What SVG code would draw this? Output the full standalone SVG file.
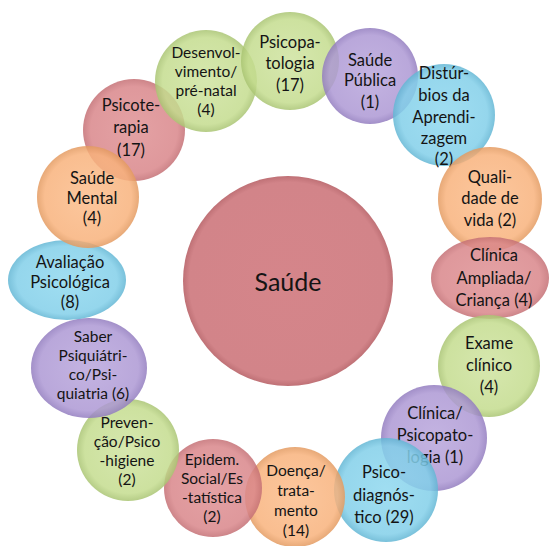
<svg xmlns="http://www.w3.org/2000/svg" width="550" height="546" viewBox="0 0 550 546">
<defs>
<radialGradient id="gG" cx="50%" cy="50%" r="50%"><stop offset="0" stop-color="#cfe3a0"/><stop offset="0.85" stop-color="#c4dc8e"/><stop offset="1" stop-color="#a9c472"/></radialGradient>
<radialGradient id="gR" cx="50%" cy="50%" r="50%"><stop offset="0" stop-color="#df9194"/><stop offset="0.85" stop-color="#d9868a"/><stop offset="1" stop-color="#c46f74"/></radialGradient>
<radialGradient id="gP" cx="50%" cy="50%" r="50%"><stop offset="0" stop-color="#b9a6dc"/><stop offset="0.85" stop-color="#ad98d4"/><stop offset="1" stop-color="#927cbf"/></radialGradient>
<radialGradient id="gB" cx="50%" cy="50%" r="50%"><stop offset="0" stop-color="#8fd8ef"/><stop offset="0.85" stop-color="#82cfe9"/><stop offset="1" stop-color="#62b6d4"/></radialGradient>
<radialGradient id="gO" cx="50%" cy="50%" r="50%"><stop offset="0" stop-color="#fbbd8c"/><stop offset="0.85" stop-color="#f8b27c"/><stop offset="1" stop-color="#e39a60"/></radialGradient>
<radialGradient id="gC" cx="50%" cy="50%" r="50%"><stop offset="0" stop-color="#d5858a"/><stop offset="0.94" stop-color="#d28489"/><stop offset="1" stop-color="#bf7176"/></radialGradient>
</defs>
<style>
.n{opacity:0.85}
.G{fill:url(#gG)}.R{fill:url(#gR)}.P{fill:url(#gP)}.B{fill:url(#gB)}.O{fill:url(#gO)}
text{font-family:Lato,"Liberation Sans",sans-serif;font-size:16.5px;fill:#141414;text-anchor:middle}
.s text{font-size:15.5px}
.big{font-size:25px}
</style>
<g id="connectors"/>
<g id="saude"><circle cx="288" cy="281" r="105" fill="url(#gC)"/><text class="big" x="288" y="291">Saúde</text></g>
<g id="psicoterapia"><circle class="n R" cx="134" cy="130" r="51"/><text x="131" y="111">Psicote-</text><text x="131" y="133">rapia</text><text x="131" y="156">(17)</text></g>
<g id="desenvolvimento" class="s"><circle class="n G" cx="206" cy="81" r="51"/><text x="206" y="58">Desenvol-</text><text x="206" y="77">vimento/</text><text x="206" y="96">pré-natal</text><text x="206" y="115">(4)</text></g>
<g id="psicopatologia"><circle class="n G" cx="290" cy="61" r="49"/><text x="290" y="48">Psicopa-</text><text x="290" y="69">tologia</text><text x="290" y="91">(17)</text></g>
<g id="saude-publica"><circle class="n P" cx="370" cy="76" r="48"/><text x="370" y="66">Saúde</text><text x="370" y="86">Pública</text><text x="370" y="108">(1)</text></g>
<g id="disturbios"><circle class="n B" cx="444" cy="115" r="51"/><text x="444" y="79">Distúr-</text><text x="444" y="101">bios da</text><text x="444" y="123">Aprendi-</text><text x="444" y="144">zagem</text><text x="444" y="165">(2)</text></g>
<g id="qualidade"><circle class="n O" cx="490" cy="199" r="52"/><text x="490" y="183">Quali-</text><text x="490" y="204">dade de</text><text x="490" y="226">vida (2)</text></g>
<g id="clinica-ampliada"><ellipse class="n R" cx="490" cy="278" rx="59" ry="41"/><text x="494" y="261">Clínica</text><text x="494" y="284">Ampliada/</text><text x="494" y="306">Criança (4)</text></g>
<g id="exame"><circle class="n G" cx="489" cy="366" r="51"/><text x="489" y="349">Exame</text><text x="489" y="371">clínico</text><text x="489" y="393">(4)</text></g>
<g id="clinica-psicopatologia"><circle class="n P" cx="434" cy="438" r="53"/><text x="435" y="419">Clínica/</text><text x="435" y="441">Psicopato-</text><text x="435" y="463">logia (1)</text></g>
<g id="psicodiagnostico"><circle class="n B" cx="386" cy="490" r="52"/><text x="384" y="478">Psico-</text><text x="384" y="501">diagnós-</text><text x="384" y="523">tico (29)</text></g>
<g id="doenca" class="s"><circle class="n O" cx="295" cy="497" r="50"/><text x="296" y="476">Doença/</text><text x="296" y="496">trata-</text><text x="296" y="516">mento</text><text x="296" y="536">(14)</text></g>
<g id="epidem" class="s"><circle class="n R" cx="213" cy="488" r="49"/><text x="212" y="465">Epidem.</text><text x="212" y="484">Social/Es</text><text x="212" y="503">-tatística</text><text x="212" y="522">(2)</text></g>
<g id="prevencao" class="s"><circle class="n G" cx="128" cy="450" r="51"/><text x="127" y="428">Preven-</text><text x="127" y="447">ção/Psico</text><text x="127" y="466">-higiene</text><text x="127" y="485">(2)</text></g>
<g id="saber" class="s"><ellipse class="n P" cx="89" cy="368" rx="58" ry="50"/><text x="93" y="342">Saber</text><text x="93" y="361">Psiquiátri-</text><text x="93" y="380">co/Psi-</text><text x="93" y="399">quiatria (6)</text></g>
<g id="avaliacao"><ellipse class="n B" cx="67" cy="280" rx="59" ry="40"/><text x="70" y="268">Avaliação</text><text x="70" y="288">Psicológica</text><text x="70" y="308">(8)</text></g>
<g id="saude-mental"><circle class="n O" cx="88" cy="197" r="51"/><text x="92" y="184">Saúde</text><text x="92" y="204">Mental</text><text x="92" y="224">(4)</text></g>
</svg>
